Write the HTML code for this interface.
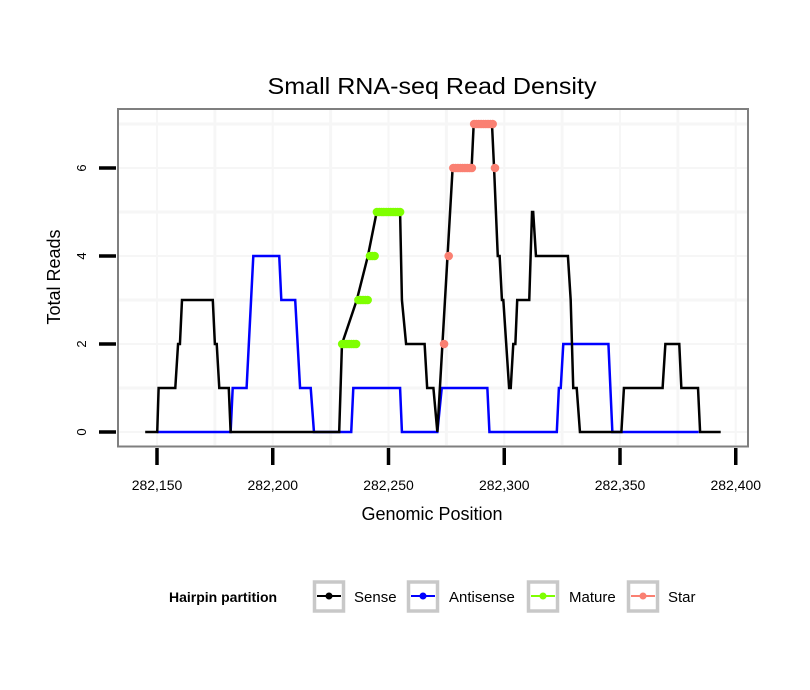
<!DOCTYPE html>
<html><head><meta charset="utf-8"><style>
body{margin:0;background:#fff;}
svg{display:block;font-family:"Liberation Sans",Arial,sans-serif;}
</style></head><body>
<svg id="chart" width="810" height="690" viewBox="0 0 810 690">
<text x="432" y="94" font-size="23" text-anchor="middle" textLength="329" lengthAdjust="spacingAndGlyphs">Small RNA-seq Read Density</text>
<rect x="118" y="109" width="630" height="337.5" fill="#fff" stroke="#7f7f7f" stroke-width="2"/>
<g id="grid"></g>
<g id="series"></g>
<g id="axes"></g>
<text x="432" y="520" font-size="18" text-anchor="middle">Genomic Position</text>
<text transform="translate(60,277) rotate(-90)" font-size="18" text-anchor="middle">Total Reads</text>
<g>
<text x="169" y="602" font-size="14" font-weight="bold">Hairpin partition</text>
<g>
<rect x="314.5" y="582" width="29" height="29" fill="#fff" stroke="#c8c8c8" stroke-width="3.5"/>
<line x1="317" y1="596" x2="341" y2="596" stroke="#000" stroke-width="2"/><circle cx="329" cy="596" r="3.5" fill="#000"/>
<text x="354" y="602" font-size="15">Sense</text></g>
<g>
<rect x="408.5" y="582" width="29" height="29" fill="#fff" stroke="#c8c8c8" stroke-width="3.5"/>
<line x1="411" y1="596" x2="435" y2="596" stroke="#0000ff" stroke-width="2"/><circle cx="423" cy="596" r="3.5" fill="#0000ff"/>
<text x="449" y="602" font-size="15">Antisense</text></g>
<g>
<rect x="528.5" y="582" width="29" height="29" fill="#fff" stroke="#c8c8c8" stroke-width="3.5"/>
<line x1="531" y1="596" x2="555" y2="596" stroke="#7fff00" stroke-width="2"/><circle cx="543" cy="596" r="3.5" fill="#7fff00"/>
<text x="569" y="602" font-size="15">Mature</text></g>
<g>
<rect x="628.5" y="582" width="29" height="29" fill="#fff" stroke="#c8c8c8" stroke-width="3.5"/>
<line x1="631" y1="596" x2="655" y2="596" stroke="#fa8072" stroke-width="2"/><circle cx="643" cy="596" r="3.5" fill="#fa8072"/>
<text x="668" y="602" font-size="15">Star</text></g>
</g>
</svg>
<script>
const senseX=[144.9,150.1,150.7,157.9,159.1,159.9,160.8,174.1,175.0,175.8,176.9,181.0,181.8,228.7,229.9,236.3,241.1,244.9,255.0,255.8,257.6,265.6,266.7,269.4,271.1,277.7,285.9,286.8,294.7,295.6,297.2,298.0,299.0,299.6,302.1,302.8,303.9,304.8,305.6,310.8,312.0,312.5,313.7,327.5,328.7,329.8,331.3,332.7,350.6,351.7,368.4,369.6,375.6,376.5,383.7,384.6,393.5];
const senseY=[0,0,1,1,2,2,3,3,2,2,1,1,0,0,2,3,4,5,5,3,2,2,1,1,0,6,6,7,7,6,4,4,3,3,1,1,2,2,3,3,5,5,4,4,3,1,1,0,0,1,1,2,2,1,1,0,0];
const antiX=[150.1,181.8,182.7,188.7,191.6,202.8,203.7,209.7,211.8,216.4,217.8,233.9,234.8,255.0,255.8,271.1,273.0,292.7,293.6,322.7,323.6,324.4,325.5,345.0,346.7,384.0];
const antiY=[0,0,1,1,4,4,3,3,1,1,0,0,1,1,0,0,1,1,0,0,1,1,2,2,0,0];
const matureX=[230,231,232,233,234,235,236,237,238,239,240,241,242,243,244,245,246,247,248,249,250,251,252,253,254,255];
const matureY=[2,2,2,2,2,2,2,3,3,3,3,3,4,4,4,5,5,5,5,5,5,5,5,5,5,5];
const starX=[274,276,278,279,280,281,282,283,284,285,286,287,288,289,290,291,292,293,294,295,296];
const starY=[2,4,6,6,6,6,6,6,6,6,6,7,7,7,7,7,7,7,7,7,6];
const xTicks=[150,200,250,300,350,400];
const xTickLabels=["282,150","282,200","282,250","282,300","282,350","282,400"];
const yTicks=[0,2,4,6];

const X=v=>157+(v-150)*2.315;
const Y=v=>432-v*44;
const NS="http://www.w3.org/2000/svg";
function mk(tag,attrs,parent){const e=document.createElementNS(NS,tag);for(const k in attrs)e.setAttribute(k,attrs[k]);parent.appendChild(e);return e;}
const grid=document.getElementById('grid'),ser=document.getElementById('series'),ax=document.getElementById('axes');
for(let v=0;v<=7;v++){const l=mk('line',{x1:119,x2:747,y1:Y(v),y2:Y(v),stroke:'#f6f6f6','stroke-width':v%2?3:2},grid);

}
for(let v=125;v<=400;v+=25){if(X(v)<119||X(v)>747)continue;const l=mk('line',{x1:X(v),x2:X(v),y1:110,y2:445,stroke:'#f6f6f6','stroke-width':v%50?3:2},grid);

}
function line(xs,ys,color,name){const p=mk('polyline',{points:xs.map((x,i)=>X(x)+','+Y(ys[i])).join(' '),fill:'none',stroke:color,'stroke-width':2.5,'stroke-linejoin':'miter'},ser);

}
line(antiX,antiY,'#0000ff','antisense-line');
line(senseX,senseY,'#000000','sense-line');
function pts(xs,ys,color,name){xs.forEach((x,i)=>{const c=mk('circle',{cx:X(x),cy:Y(ys[i]),r:4.3,fill:color},ser);

});}
pts(matureX,matureY,'#7fff00','mature-point');
pts(starX,starY,'#fa8072','star-point');
xTicks.forEach((v,i)=>{const t=mk('line',{x1:X(v),x2:X(v),y1:448,y2:465,stroke:'#000','stroke-width':3.5},ax);


const tx=mk('text',{x:X(v),y:490,'font-size':14,'text-anchor':'middle'},ax);tx.textContent=xTickLabels[i];

});
yTicks.forEach(v=>{const t=mk('line',{x1:99,x2:116,y1:Y(v),y2:Y(v),stroke:'#000','stroke-width':3.5},ax);


const tx=mk('text',{transform:`translate(86,${Y(v)}) rotate(-90)`,'font-size':13,'text-anchor':'middle'},ax);tx.textContent=v;

});
</script>
</body></html>
